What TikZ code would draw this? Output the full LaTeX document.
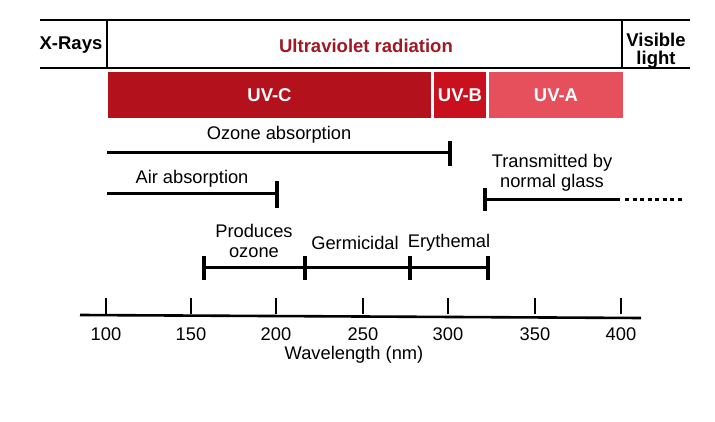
\documentclass[tikz,border=0pt]{standalone}
\usepackage{fontspec}
\setmainfont{Liberation Sans}
\definecolor{uvc}{HTML}{B3121C}
\definecolor{uvb}{HTML}{C9101E}
\definecolor{uva}{HTML}{E5505C}
\definecolor{uvtitle}{HTML}{A01823}
\tikzset{
  band/.style={line width=2pt, black},
  bar/.style={draw=none, minimum height=46pt, inner sep=0pt, text=white, font=\fontsize{18.5}{20}\selectfont\bfseries},
  rangeline/.style={line width=3pt, black},
  endtick/.style={line width=3.2pt, black},
  lbl/.style={inner sep=0pt, align=center, font=\fontsize{18.3}{20}\selectfont},
  hdr/.style={inner sep=0pt, align=center, font=\fontsize{18.5}{19}\selectfont\bfseries},
}
\begin{document}
\begin{tikzpicture}[x=1pt,y=-1pt]
\useasboundingbox (0,0) rectangle (715,422);
% header band
\draw[band] (40,20) -- (690,20);
\draw[band] (40,68) -- (690,68);
\draw[band] (107,20) -- (107,68);
\draw[band] (622,20) -- (622,68);
\node[hdr] (xr) at (71,45) {X-Rays};
\node[hdr, text=uvtitle] (uvr) at (366,46) {Ultraviolet radiation};
\node[hdr, font=\fontsize{18.5}{18}\selectfont\bfseries] (vis) at (656,51) {Visible\\light};
% colored bars
\node[bar, fill=uvc, minimum width=323pt] (uvcbar) at (269.5,95) {UV-C};
\node[bar, fill=uvb, minimum width=52pt] (uvbbar) at (460,95) {UV-B};
\node[bar, fill=uva, minimum width=134pt] (uvabar) at (556,95) {UV-A};
% ozone absorption
\coordinate (oz1) at (107,153);
\coordinate (oz2) at (450,153);
\coordinate (oz2t) at (450,141);
\coordinate (oz2b) at (450,166);
\draw[rangeline] (oz1) -- (oz2);
\draw[endtick] (oz2t) -- (oz2b);
\node[lbl] (ozl) at (279,135) {Ozone absorption};
% air absorption
\coordinate (air1) at (107,194);
\coordinate (air2) at (277,194);
\coordinate (air2t) at (277,181);
\coordinate (air2b) at (277,208);
\draw[rangeline] (air1) -- (air2);
\draw[endtick] (air2t) -- (air2b);
\node[lbl] (airl) at (192,179) {Air absorption};
% transmitted by glass
\coordinate (gl1) at (485,200);
\coordinate (gl2) at (620,200);
\coordinate (gl3) at (682,200);
\coordinate (gl1t) at (485,188);
\coordinate (gl1b) at (485,211);
\draw[rangeline] (gl1) -- (gl2);
\draw[line width=3pt, dash pattern=on 4pt off 3.5pt] (gl2) ++(5,0) -- (gl3);
\draw[endtick] (gl1t) -- (gl1b);
\node[lbl] (gll) at (552,173) {Transmitted by\\normal glass};
% effects
\coordinate (e1) at (204,268);
\coordinate (e2) at (305,268);
\coordinate (e3) at (410,268);
\coordinate (e4) at (488,268);
\draw[rangeline] (e1) -- (e4);
\foreach \c in {e1,e2,e3,e4} \draw[endtick] (\c) ++(0,-12) -- ++(0,24);
\node[lbl] (prl) at (254,241) {Produces\\ozone};
\node[lbl] (gel) at (355,243) {Germicidal};
\node[lbl] (erl) at (449,243) {Erythemal};
% axis
\coordinate (ax1) at (80,315);
\coordinate (ax2) at (641,318);
\draw[line width=2.6pt] (ax1) -- (ax2);
\foreach \v/\x in {100/106,150/191,200/276,250/363,300/448,350/535,400/621}{
  \draw[line width=1.6pt] (\x,314) -- (\x,298);
  \node[lbl] at (\x,334) {\v};
}
\node[lbl] (wl) at (354,355) {Wavelength (nm)};
\end{tikzpicture}
\end{document}
